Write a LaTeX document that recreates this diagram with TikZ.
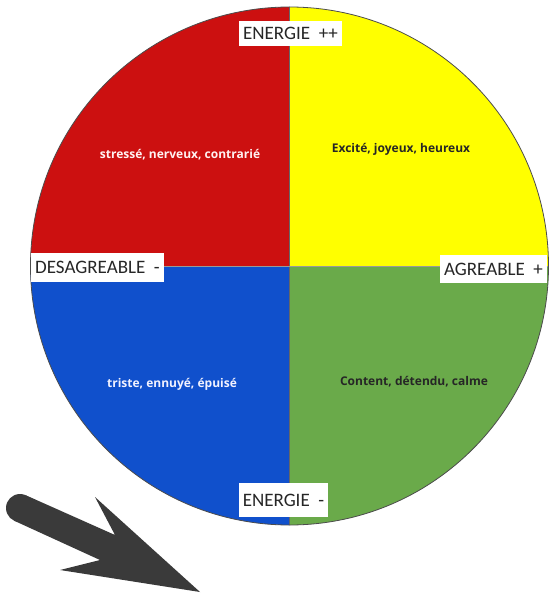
\documentclass[tikz,border=0pt]{standalone}
\usepackage{fontspec}
\newfontfamily\labelfont{Carlito}
\newfontfamily\moodfont{Open Sans}
\definecolor{qred}{HTML}{CC1010}
\definecolor{qyellow}{HTML}{FFFF00}
\definecolor{qblue}{HTML}{1050CC}
\definecolor{qgreen}{HTML}{6AAA4A}
\definecolor{arrowgray}{HTML}{3A3A3A}
\begin{document}
\begin{tikzpicture}[x=1pt,y=-1pt,
  axislabel/.style={fill=white,inner xsep=4pt,inner ysep=2pt,font=\labelfont\fontsize{19}{19}\selectfont,text=black!85},
  mood/.style={font=\moodfont\bfseries\fontsize{12}{14}\selectfont}]
\useasboundingbox (0,0) rectangle (551,596);
\fill[white] (0,0) rectangle (551,596);
% four quadrants of the wheel
\coordinate (O) at (289.5,266);
\begin{scope}
  \clip (O) circle (259);
  \fill[qred]    (O) rectangle (20,0);
  \fill[qyellow] (O) rectangle (560,0);
  \fill[qblue]   (O) rectangle (20,540);
  \fill[qgreen]  (O) rectangle (560,540);
  \draw[black!60,line width=0.6pt] (289.5,0) -- (289.5,540);
  \draw[black!40,line width=0.4pt] (20,266) -- (560,266);
\end{scope}
\draw[black!70,line width=0.8pt] (O) circle (259);
% moods
\node[mood,text=white!95!red] (stress) at (180,155) {stressé, nerveux, contrarié};
\node[mood,text=black!85] (excite) at (401,149) {Excité, joyeux, heureux};
\node[mood,text=white!95!blue] (triste) at (172,384) {triste, ennuyé, épuisé};
\node[mood,text=black!85] (content) at (414,382) {Content, détendu, calme};
% axes
\node[axislabel,minimum height=25] (top) at (290.5,33.5) {ENERGIE\ \ ++};
\node[axislabel,minimum height=29] (left) at (97.5,267.5) {DESAGREABLE\ \ -};
\node[axislabel,minimum height=28] (right) at (493.5,269) {AGREABLE\ \ +};
\node[axislabel,minimum height=34] (bottom) at (283.5,500) {ENERGIE\ \ -};
% pointer arrow
\coordinate (cap) at (20,508);
\fill[arrowgray] (cap) circle (14);
\fill[arrowgray] (25.9,495.3) -- (115,535) -- (95,497) -- (200,592) -- (60,570) -- (100,560) -- (14.1,520.7) -- cycle;
\end{tikzpicture}
\end{document}
